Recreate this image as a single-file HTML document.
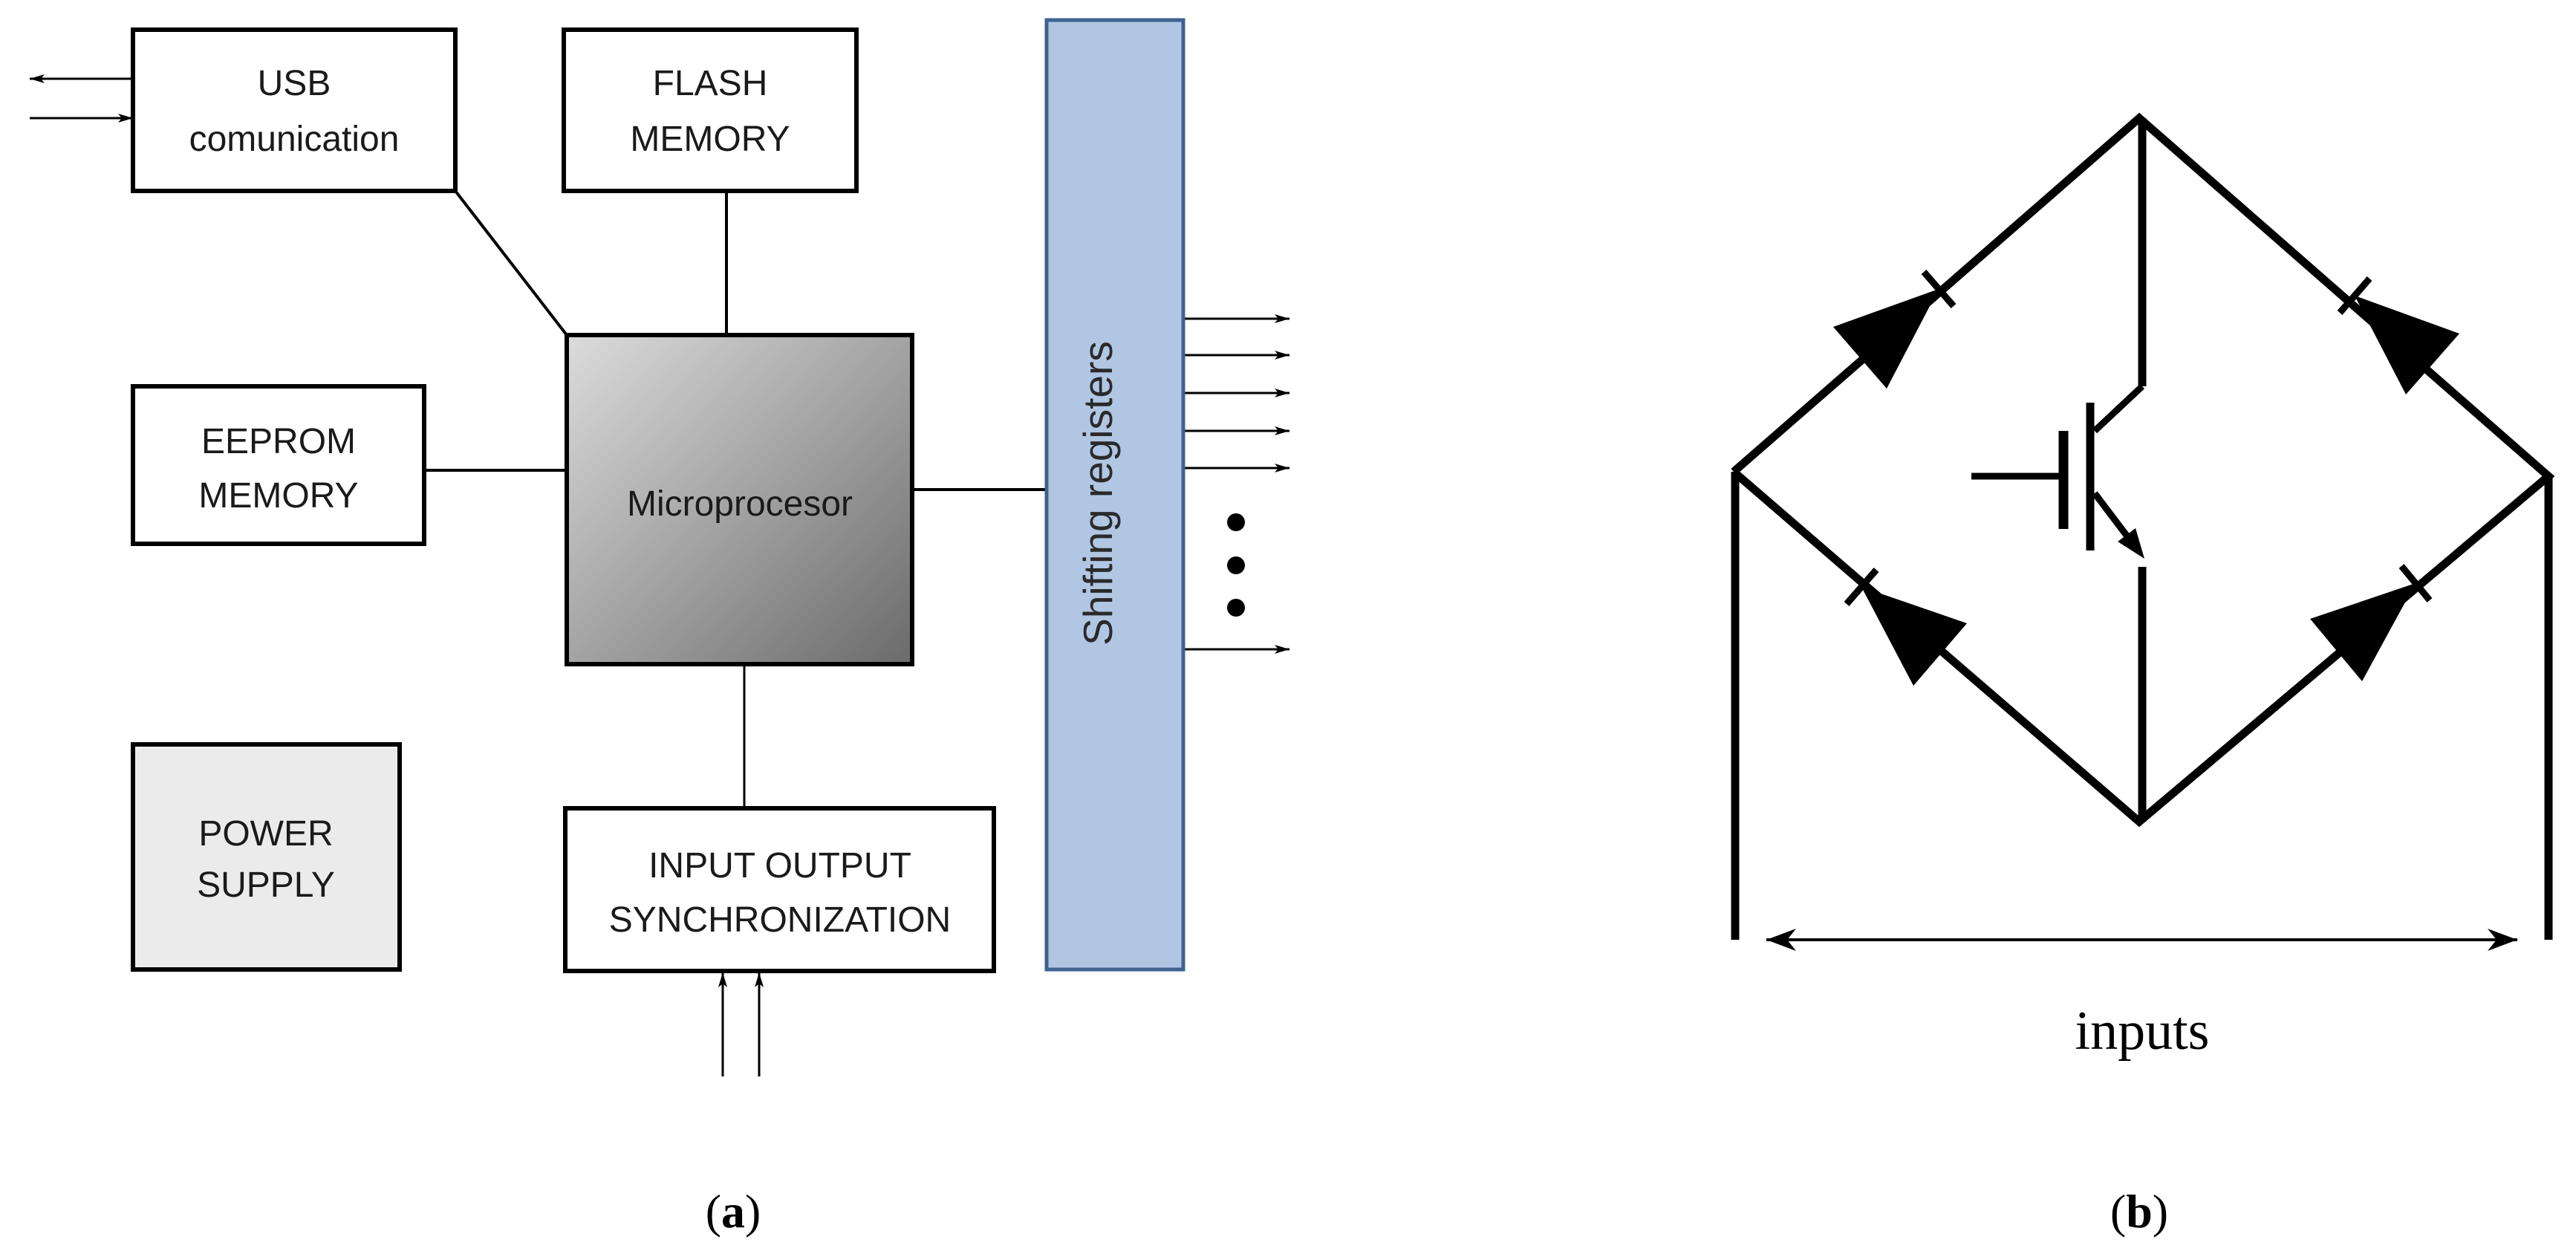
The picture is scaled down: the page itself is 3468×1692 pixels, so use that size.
<!DOCTYPE html>
<html><head><meta charset="utf-8"><style>html,body{margin:0;padding:0;background:#fff}svg{display:block}</style></head><body>
<svg width="3468" height="1692" viewBox="0 0 3468 1692" xmlns="http://www.w3.org/2000/svg">
<defs>
<linearGradient id="g" x1="0" y1="0" x2="1" y2="1"><stop offset="0" stop-color="#dcdcdc"/><stop offset="1" stop-color="#6b6b6b"/></linearGradient>
<marker id="ah" viewBox="0 0 20 12" refX="20" refY="6" markerWidth="20" markerHeight="12" markerUnits="userSpaceOnUse" orient="auto"><path d="M0,0 L20,6 L0,12 L5,6 Z" fill="#000"/></marker>
<marker id="ab" viewBox="0 0 40 30" refX="40" refY="15" markerWidth="40" markerHeight="30" markerUnits="userSpaceOnUse" orient="auto-start-reverse"><path d="M0,0 L40,15 L0,30 L12,15 Z" fill="#000"/></marker>
</defs>
<g font-family="Liberation Sans, sans-serif" font-size="48" fill="#1a1a1a" text-anchor="middle">
<g stroke="#000" stroke-width="4" fill="none">
<line x1="613" y1="257" x2="763" y2="451"/>
<line x1="978" y1="257" x2="978" y2="451"/>
<line x1="571" y1="633" x2="763" y2="633"/>
<line x1="1228" y1="659" x2="1407" y2="659"/>
<line x1="1002" y1="894" x2="1002" y2="1088" stroke-width="3"/>
</g>
<g stroke="#000" stroke-width="3">
<line x1="179" y1="106" x2="40" y2="106" marker-end="url(#ah)"/>
<line x1="40" y1="159" x2="179" y2="159" marker-end="url(#ah)"/>
<line x1="1593" y1="429" x2="1736" y2="429" marker-end="url(#ah)"/>
<line x1="1593" y1="478" x2="1736" y2="478" marker-end="url(#ah)"/>
<line x1="1593" y1="529" x2="1736" y2="529" marker-end="url(#ah)"/>
<line x1="1593" y1="580" x2="1736" y2="580" marker-end="url(#ah)"/>
<line x1="1593" y1="630" x2="1736" y2="630" marker-end="url(#ah)"/>
<line x1="1593" y1="874" x2="1736" y2="874" marker-end="url(#ah)"/>
<line x1="973" y1="1449" x2="973" y2="1309" marker-end="url(#ah)"/>
<line x1="1022" y1="1449" x2="1022" y2="1309" marker-end="url(#ah)"/>
</g>
<circle cx="1664" cy="703" r="12" fill="#000"/><circle cx="1664" cy="761" r="12" fill="#000"/><circle cx="1664" cy="818" r="12" fill="#000"/>
<g stroke="#000" stroke-width="6">
<rect x="179" y="40" width="434" height="217" fill="#fff"/>
<rect x="759" y="40" width="394" height="217" fill="#fff"/>
<rect x="763" y="451" width="465" height="443" fill="url(#g)"/>
<rect x="179" y="520" width="392" height="212" fill="#fff"/>
<rect x="179" y="1002" width="359" height="303" fill="#ebebeb"/>
<rect x="761" y="1088" width="577" height="219" fill="#fff"/>
</g>
<rect x="1409" y="27" width="184" height="1278" fill="#b0c6e2" stroke="#3f6290" stroke-width="5"/>
<text x="396" y="128">USB</text><text x="396" y="203">comunication</text>
<text x="956" y="128">FLASH</text><text x="956" y="203">MEMORY</text>
<text x="375" y="610">EEPROM</text><text x="375" y="683">MEMORY</text>
<text x="996" y="694">Microprocesor</text>
<text x="358" y="1138">POWER</text><text x="358" y="1207">SUPPLY</text>
<text x="1050" y="1181">INPUT OUTPUT</text><text x="1050" y="1254">SYNCHRONIZATION</text>
<text transform="translate(1497,664) rotate(-90)" font-size="55" fill="#2a2a2a">Shifting registers</text>
</g>
<text x="987" y="1652" font-family="Liberation Serif, serif" font-size="64" text-anchor="middle">(<tspan font-weight="bold">a</tspan>)</text>
<text x="2880" y="1652" font-family="Liberation Serif, serif" font-size="64" text-anchor="middle">(<tspan font-weight="bold">b</tspan>)</text>
<g stroke="#000" stroke-width="11" fill="none">
<polyline points="2334,635 2880,159 3431,641 2880,1106 2334,635"/>
<line x1="2336" y1="635" x2="2336" y2="1265"/>
<line x1="3431" y1="641" x2="3431" y2="1265"/>
<line x1="2884" y1="159" x2="2884" y2="520"/>
<line x1="2884" y1="520" x2="2820" y2="580" stroke-width="9"/>
<line x1="2814" y1="542" x2="2814" y2="741"/>
<line x1="2778" y1="580" x2="2778" y2="712" stroke-width="13"/>
<line x1="2654" y1="641" x2="2778" y2="641" stroke-width="9"/>
<line x1="2820" y1="664" x2="2870" y2="730" stroke-width="9"/>
<line x1="2884" y1="763" x2="2884" y2="1106"/>
<line x1="2590" y1="366" x2="2630" y2="412" stroke-width="9"/>
<line x1="3150" y1="421" x2="3190" y2="375" stroke-width="9"/>
<line x1="2486" y1="813" x2="2526" y2="767" stroke-width="9"/>
<line x1="3233" y1="762" x2="3271" y2="808" stroke-width="9"/>
</g>
<g fill="#000">
<polygon points="2610,389 2468,440 2540,523"/>
<polygon points="3170,398 3311,449 3239,531"/>
<polygon points="2506,790 2648,839 2576,923"/>
<polygon points="3252,785 3180,917 3110,833"/>
<polygon points="2887,752 2875,711 2851,729"/>
</g>
<line x1="2378" y1="1265" x2="3389" y2="1265" stroke="#000" stroke-width="4" marker-start="url(#ab)" marker-end="url(#ab)"/>
<text x="2884" y="1412" font-family="Liberation Serif, serif" font-size="74" text-anchor="middle">inputs</text>
</svg>
</body></html>
